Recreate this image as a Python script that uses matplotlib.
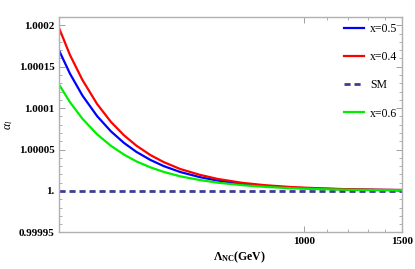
import numpy as np
import matplotlib
matplotlib.use('Agg')
import matplotlib.pyplot as plt
from matplotlib.ticker import FixedLocator, NullFormatter

plt.rcParams['font.family'] = ['Liberation Serif', 'DejaVu Serif']
plt.rcParams['mathtext.fontset'] = 'custom'
plt.rcParams['mathtext.rm'] = 'Liberation Serif:bold'
plt.rcParams['mathtext.it'] = 'Liberation Serif:italic'

# Lambda_NC (GeV) and alpha_l - 1 (units of 1e-5)
lam = [363, 380, 400, 425, 450, 475, 500, 530, 560, 600, 650, 700, 775, 850, 950, 1050, 1200, 1350, 1500]
red_x04 = [19.7, 16.4, 13.4, 10.5, 8.34, 6.72, 5.47, 4.33, 3.48, 2.64, 1.95, 1.45, 0.98, 0.70,
           0.47, 0.34, 0.21, 0.15, 0.12]
blue_x05 = [16.99, 14.15, 11.52, 9.04, 7.2, 5.8, 4.72, 3.74, 3.0, 2.28, 1.67, 1.25, 0.86, 0.6,
            0.4, 0.29, 0.19, 0.14, 0.11]
green_x06 = [12.86, 10.71, 8.72, 6.84, 5.45, 4.39, 3.57, 2.85, 2.3, 1.76, 1.32, 1.0, 0.7, 0.5,
             0.33, 0.23, 0.15, 0.11, 0.09]
sm = [0.0] * len(lam)

ytick_vals = [0.99995, 1.0, 1.00005, 1.0001, 1.00015, 1.0002]
ytick_labels = ['0.99995', '1.', '1.00005', '1.0001', '1.00015', '1.0002']
xtick_vals = [1000, 1500]
xminor_vals = [1100, 1200, 1300, 1400]


def to_alpha(vals):
    return 1.0 + np.array(vals) * 1e-5


fig = plt.figure(figsize=(4.15, 2.69), dpi=100)
ax = fig.add_axes([0.142, 0.136, 0.827, 0.801])

ax.plot(lam, to_alpha(blue_x05), color='#0000ff', lw=1.6, label='x=0.5')
ax.plot(lam, to_alpha(red_x04), color='#ff0000', lw=1.6, label='x=0.4')
ax.plot(lam, to_alpha(sm), color='#3d3d99', lw=2.0, ls=(0, (2.2, 1.4)), label='SM')
ax.plot(lam, to_alpha(green_x06), color='#00ee00', lw=1.6, label='x=0.6')

ax.set_xscale('log')
ax.set_xlim(363, 1500)
ax.set_ylim(0.99995, 1.00021)

ax.xaxis.set_major_locator(FixedLocator(xtick_vals))
ax.xaxis.set_minor_locator(FixedLocator(xminor_vals))
ax.xaxis.set_minor_formatter(NullFormatter())
ax.set_xticklabels([str(v) for v in xtick_vals])
ax.set_yticks(ytick_vals)
ax.set_yticklabels(ytick_labels)
ax.yaxis.set_minor_locator(FixedLocator(np.arange(0.99995, 1.000211, 0.00001)))

for s in ax.spines.values():
    s.set_color('#b0b0b0')
    s.set_linewidth(1.0)
ax.tick_params(which='both', direction='in', top=True, right=True, color='#909090')
ax.tick_params(which='major', length=4, width=0.6, labelsize=8, pad=3)
ax.tick_params(which='minor', length=2, width=0.5)
for lbl in ax.get_xticklabels() + ax.get_yticklabels():
    lbl.set_fontweight('bold')

fig.text(0.578, 0.045, r'$\mathrm{\Lambda_{NC}(GeV)}$', fontsize=8.5, ha='center', va='center')
fig.text(0.022, 0.535, r'$\alpha_l$', fontsize=8.5, rotation=90, ha='center', va='center')

ax.legend(loc='upper left', bbox_to_anchor=(0.815, 0.935), bbox_transform=fig.transFigure,
          frameon=False, fontsize=8.5, handlelength=1.7, handletextpad=0.5,
          labelspacing=1.36, borderpad=0)

fig.savefig('out.png', dpi=100)
